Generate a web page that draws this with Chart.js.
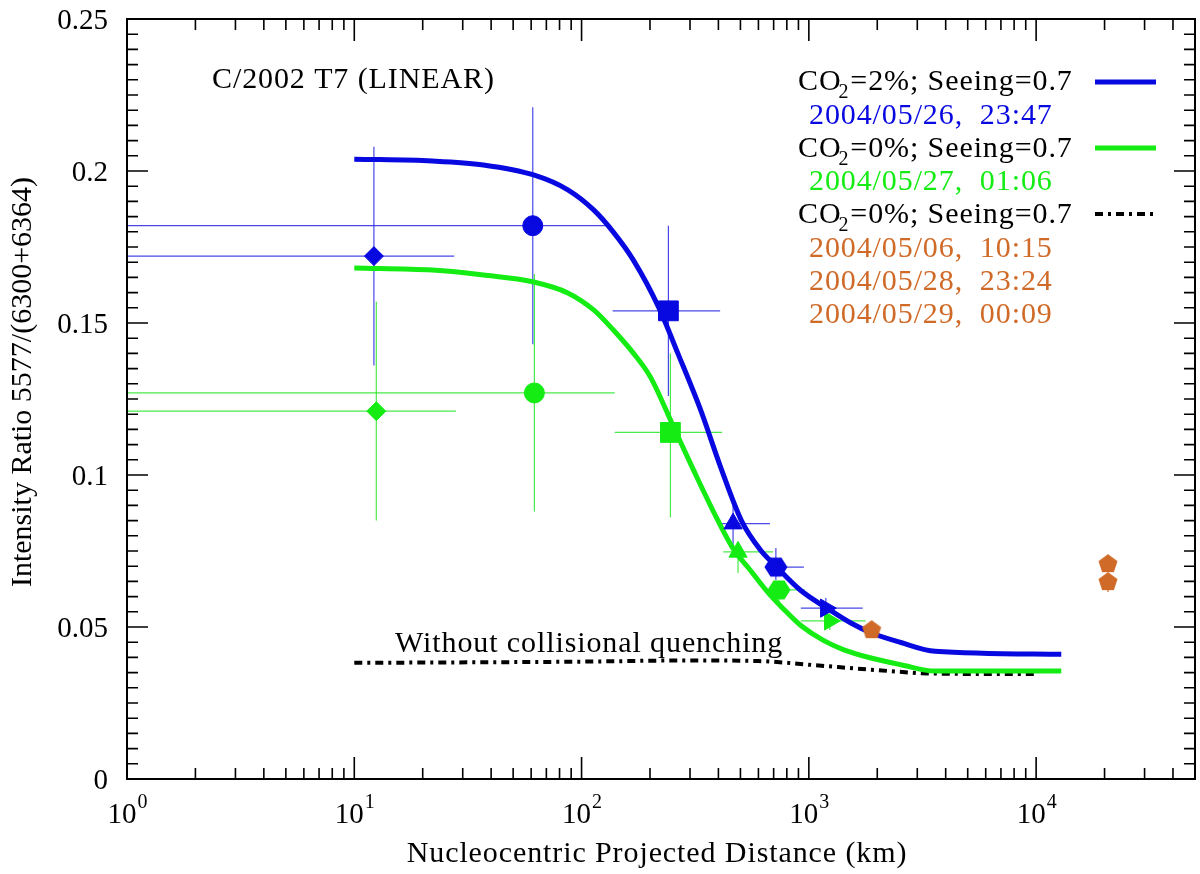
<!DOCTYPE html>
<html>
<head>
<meta charset="utf-8">
<script src="https://cdn.jsdelivr.net/npm/chart.js@4.4.1/dist/chart.umd.min.js"></script>
<style>
html, body { margin: 0; padding: 0; background: #fff; }
</style>
</head>
<body>
<canvas id="chart" width="1200" height="874"></canvas>
<script>
// model curves (km, ratio)
const blueCurveX = [10, 22, 37, 61.5, 87, 113, 138, 169, 218, 265, 334, 409, 505, 610, 716, 922, 1213, 1531, 1876, 2541, 3590, 12900];
const blueCurveY = [0.2039, 0.2033, 0.202, 0.1987, 0.1938, 0.1872, 0.1799, 0.1707, 0.1553, 0.1401, 0.1214, 0.1026, 0.0850, 0.0755, 0.0700, 0.0620, 0.0560, 0.0513, 0.0481, 0.0449, 0.042, 0.041];
const greenCurveX = [10, 22, 37, 61.5, 87, 113, 138, 169, 201, 252, 311, 397, 467, 555, 659, 808, 922, 1164, 1426, 1876, 2541, 3590, 12900];
const greenCurveY = [0.1681, 0.1674, 0.1658, 0.1635, 0.1599, 0.1543, 0.1477, 0.1401, 0.1322, 0.1164, 0.1016, 0.0852, 0.0755, 0.0685, 0.0615, 0.0545, 0.0505, 0.0455, 0.0425, 0.0398, 0.0376, 0.0355, 0.0355];
const noQuenchX = [10, 100, 300, 600, 1000, 2000, 3500, 10000];
const noQuenchY = [0.0382, 0.0386, 0.039, 0.0388, 0.0376, 0.0358, 0.0347, 0.0345];

// observations 2004/05/26 23:47 (blue)
const blueX = [12.2, 61, 241, 464, 716, 1188];
const blueY = [0.172, 0.182, 0.154, 0.084, 0.0697, 0.0562];
const blueXLo = [0.9, 0.9, 137, 411, 641, 922];
const blueXHi = [27.5, 135, 407, 674, 951, 1726];
const blueYLo = [0.136, 0.143, 0.126, 0.077, 0.0655, 0.053];
const blueYHi = [0.208, 0.221, 0.182, 0.091, 0.076, 0.0595];

// observations 2004/05/27 01:06 (green)
const greenX = [12.5, 62, 246, 488, 739, 1236];
const greenY = [0.121, 0.127, 0.114, 0.0747, 0.0622, 0.052];
const greenXLo = [0.9, 0.9, 140, 420, 674, 922];
const greenXHi = [28, 140, 415, 695, 960, 1778];
const greenYLo = [0.085, 0.088, 0.086, 0.0678, 0.0566, 0.049];
const greenYHi = [0.157, 0.166, 0.140, 0.078, 0.0645, 0.0545];

// observations 2004/05/06, 05/28, 05/29 (orange)
const orangeX = [1889, 20700, 20700];
const orangeY = [0.0493, 0.0710, 0.0651];
const orangeYLo = [0.0485, 0.0695, 0.0615];
const orangeYHi = [0.0500, 0.0735, 0.0670];

const yTickLabels = ['0', '0.05', '0.1', '0.15', '0.2', '0.25'];
const xTickExp = [0, 1, 2, 3, 4];

const BLUE = '#0808e0';
const GREEN = '#14ec14';
const ORANGE = '#d06a28';
const SERIF = '"Liberation Serif", "DejaVu Serif", serif';

function shapeCanvas(w, h, pts, color) {
    const cv = document.createElement('canvas');
    cv.width = w;
    cv.height = h;
    const g = cv.getContext('2d');
    g.fillStyle = color;
    g.beginPath();
    pts.forEach((p, i) => {
        if (i === 0) g.moveTo(w / 2 + p[0], h / 2 + p[1]);
        else g.lineTo(w / 2 + p[0], h / 2 + p[1]);
    });
    g.closePath();
    g.fill();
    return cv;
}

const hexPts = [[-11.5, 0], [-5.5, -9.5], [5.5, -9.5], [11.5, 0], [5.5, 9.5], [-5.5, 9.5]];
const pentPts = [];
for (let k = 0; k < 5; k++) {
    const a = (-90 + 72 * k) * Math.PI / 180;
    pentPts.push([10 * Math.cos(a), 10 * Math.sin(a) + 1]);
}
const blueHex = shapeCanvas(26, 22, hexPts, BLUE);
const greenHex = shapeCanvas(26, 22, hexPts, GREEN);
const orangePent = shapeCanvas(24, 24, pentPts, ORANGE);

const markerStyles = ['rectRot', 'circle', 'rect', 'triangle', null, 'triangle'];
const markerRadius = [9.5, 10, 14, 10.5, 10, 10.5];
const markerRotation = [0, 0, 0, 0, 0, 90];

const errSets = [
    { color: 'rgba(40,40,230,0.85)', x: blueX, y: blueY, xLo: blueXLo, xHi: blueXHi, yLo: blueYLo, yHi: blueYHi },
    { color: 'rgba(40,230,40,0.85)', x: greenX, y: greenY, xLo: greenXLo, xHi: greenXHi, yLo: greenYLo, yHi: greenYHi },
    { color: ORANGE, x: orangeX, y: orangeY, xLo: orangeX, xHi: orangeX, yLo: orangeYLo, yHi: orangeYHi }
];

const toXY = (xs, ys) => xs.map((v, i) => ({ x: v, y: ys[i] }));

const errorBars = {
    id: 'errorBars',
    beforeDatasetsDraw(chart) {
        const { ctx, chartArea: a, scales: { x, y } } = chart;
        ctx.save();
        ctx.beginPath();
        ctx.rect(a.left, a.top, a.right - a.left, a.bottom - a.top);
        ctx.clip();
        ctx.lineWidth = 1.2;
        errSets.forEach(s => {
            ctx.strokeStyle = s.color;
            s.x.forEach((v, i) => {
                const px = x.getPixelForValue(v);
                const py = y.getPixelForValue(s.y[i]);
                ctx.beginPath();
                ctx.moveTo(x.getPixelForValue(s.xLo[i]), py);
                ctx.lineTo(x.getPixelForValue(s.xHi[i]), py);
                ctx.moveTo(px, y.getPixelForValue(s.yLo[i]));
                ctx.lineTo(px, y.getPixelForValue(s.yHi[i]));
                ctx.stroke();
            });
        });
        ctx.restore();
    }
};

// CO2 label with subscript
function drawCO2(ctx, x, base, rest) {
    ctx.font = '30px ' + SERIF;
    ctx.fillText('CO', x, base);
    let w = ctx.measureText('CO').width;
    ctx.font = '20px ' + SERIF;
    ctx.fillText('2', x + w - 3, base + 8);
    w += ctx.measureText('2').width - 2;
    ctx.font = '30px ' + SERIF;
    ctx.fillText(rest, x + w, base);
}

const frame = {
    id: 'frame',
    afterDraw(chart) {
        const { ctx, chartArea: a, scales: { x, y } } = chart;
        ctx.save();
        ctx.strokeStyle = '#000';
        ctx.fillStyle = '#000';
        ctx.lineWidth = 2;
        ctx.strokeRect(a.left, a.top, a.right - a.left, a.bottom - a.top);

        // y ticks, both sides
        ctx.lineWidth = 1.6;
        ctx.beginPath();
        for (let k = 0; k <= 50; k++) {
            const py = y.getPixelForValue(k * 0.005);
            const len = k % 10 === 0 ? 21 : 11;
            ctx.moveTo(a.left, py); ctx.lineTo(a.left + len, py);
            ctx.moveTo(a.right, py); ctx.lineTo(a.right - len, py);
        }
        // x ticks, top and bottom
        for (let d = 1; d <= 10000; d *= 10) {
            for (let m = 1; m <= 9; m++) {
                const v = m * d;
                if (v > 50000) break;
                const px = x.getPixelForValue(v);
                const len = m === 1 ? 22 : 11;
                ctx.moveTo(px, a.bottom); ctx.lineTo(px, a.bottom - len);
                ctx.moveTo(px, a.top); ctx.lineTo(px, a.top + len);
            }
        }
        ctx.stroke();

        // y tick labels
        ctx.font = '29px ' + SERIF;
        ctx.textAlign = 'right';
        ctx.textBaseline = 'alphabetic';
        yTickLabels.forEach((t, i) => {
            ctx.fillText(t, a.left - 19, y.getPixelForValue(i * 0.05) + 10);
        });

        // x tick labels 10^n
        ctx.textAlign = 'left';
        xTickExp.forEach(e => {
            const px = x.getPixelForValue(Math.pow(10, e));
            ctx.font = '29px ' + SERIF;
            const w1 = ctx.measureText('10').width;
            ctx.font = '20px ' + SERIF;
            const w2 = ctx.measureText(String(e)).width;
            const left = px - (w1 + w2) / 2;
            ctx.font = '29px ' + SERIF;
            ctx.fillText('10', left, 823);
            ctx.font = '20px ' + SERIF;
            ctx.fillText(String(e), left + w1 + 1, 808);
        });

        // axis titles
        ctx.font = '30px ' + SERIF;
        ctx.textAlign = 'center';
        ctx.save();
        ctx.translate(31, 382);
        ctx.rotate(-Math.PI / 2);
        ctx.fillText('Intensity Ratio 5577/(6300+6364)', 0, 0);
        ctx.restore();
        ctx.letterSpacing = '0.9px';
        ctx.fillText('Nucleocentric Projected Distance (km)', 657, 862);

        // annotations
        ctx.textAlign = 'left';
        ctx.fillText('C/2002 T7 (LINEAR)', 212, 88);
        ctx.fillText('Without collisional quenching', 395, 652);

        // legend
        drawCO2(ctx, 798, 90, '=2%; Seeing=0.7');
        drawCO2(ctx, 798, 157, '=0%; Seeing=0.7');
        drawCO2(ctx, 798, 223, '=0%; Seeing=0.7');
        ctx.font = '30px ' + SERIF;
        ctx.fillStyle = BLUE;
        ctx.fillText('2004/05/26,  23:47', 809, 124);
        ctx.fillStyle = GREEN;
        ctx.fillText('2004/05/27,  01:06', 809, 190);
        ctx.fillStyle = ORANGE;
        ctx.fillText('2004/05/06,  10:15', 809, 257);
        ctx.fillText('2004/05/28,  23:24', 809, 290);
        ctx.fillText('2004/05/29,  00:09', 809, 323);

        ctx.lineWidth = 5;
        ctx.strokeStyle = BLUE;
        ctx.beginPath(); ctx.moveTo(1095, 82); ctx.lineTo(1156, 82); ctx.stroke();
        ctx.strokeStyle = GREEN;
        ctx.beginPath(); ctx.moveTo(1095, 148); ctx.lineTo(1156, 148); ctx.stroke();
        ctx.strokeStyle = '#000';
        ctx.lineWidth = 4;
        ctx.setLineDash([8, 5, 3, 5]);
        ctx.beginPath(); ctx.moveTo(1095, 214); ctx.lineTo(1154, 214); ctx.stroke();
        ctx.restore();
    }
};

const ctx = document.getElementById('chart').getContext('2d');
const chart = new Chart(ctx, {
    type: 'scatter',
    data: {
        datasets: [
            {
                label: 'obs 2004/05/26',
                data: toXY(blueX, blueY),
                backgroundColor: BLUE,
                borderColor: BLUE,
                borderWidth: 1,
                pointStyle: markerStyles.map(s => s || blueHex),
                pointRadius: markerRadius,
                rotation: markerRotation
            },
            {
                label: 'obs 2004/05/27',
                data: toXY(greenX, greenY),
                backgroundColor: GREEN,
                borderColor: GREEN,
                borderWidth: 1,
                pointStyle: markerStyles.map(s => s || greenHex),
                pointRadius: markerRadius,
                rotation: markerRotation
            },
            {
                label: 'obs orange',
                data: toXY(orangeX, orangeY),
                backgroundColor: ORANGE,
                borderColor: ORANGE,
                pointStyle: orangePent,
                pointRadius: 10
            },
            {
                type: 'line',
                label: 'CO2=2%',
                data: toXY(blueCurveX, blueCurveY),
                borderColor: BLUE,
                borderWidth: 5,
                pointRadius: 0,
                cubicInterpolationMode: 'monotone',
                fill: false
            },
            {
                type: 'line',
                label: 'CO2=0%',
                data: toXY(greenCurveX, greenCurveY),
                borderColor: GREEN,
                borderWidth: 5,
                pointRadius: 0,
                cubicInterpolationMode: 'monotone',
                fill: false
            },
            {
                type: 'line',
                label: 'Without collisional quenching',
                data: toXY(noQuenchX, noQuenchY),
                borderColor: '#000',
                borderWidth: 4,
                borderDash: [8, 5, 3, 5],
                pointRadius: 0,
                cubicInterpolationMode: 'monotone',
                fill: false
            }
        ]
    },
    options: {
        responsive: false,
        animation: false,
        devicePixelRatio: 1,
        layout: { autoPadding: false, padding: { left: 127, top: 19, right: 5, bottom: 95 } },
        scales: {
            x: { type: 'logarithmic', min: 1, max: 50000, display: false },
            y: { type: 'linear', min: 0, max: 0.25, display: false }
        },
        plugins: {
            legend: { display: false },
            tooltip: { enabled: false }
        }
    },
    plugins: [errorBars, frame]
});
</script>
</body>
</html>
